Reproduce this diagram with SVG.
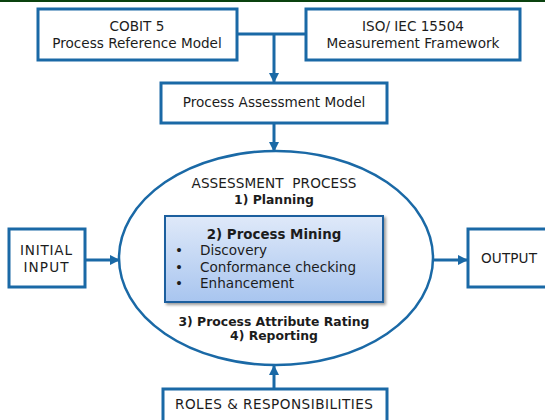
<svg xmlns="http://www.w3.org/2000/svg" width="545" height="420" viewBox="0 0 545 420">
<style>
.box{fill:#fff;stroke:#1a69a6;stroke-width:3}
.ln{fill:none;stroke:#1a69a6;stroke-width:3}
text{font-family:"DejaVu Sans",Verdana,sans-serif;font-size:13.6px;fill:#1c1c1c}
.c{text-anchor:middle}
.b{font-weight:bold;font-size:12.4px}
</style>
<defs>
<marker id="ah" viewBox="0 0 10 10" refX="9" refY="5" markerWidth="3.5" markerHeight="3.5" orient="auto" markerUnits="strokeWidth">
<path d="M0,0 L10,5 L0,10 z" fill="#1a69a6"/>
</marker>
<linearGradient id="g" x1="0" y1="0" x2="0" y2="1">
<stop offset="0" stop-color="#dfe9f9"/>
<stop offset="1" stop-color="#a8c5ef"/>
</linearGradient>
<filter id="sh" x="-10%" y="-10%" width="130%" height="130%">
<feGaussianBlur in="SourceAlpha" stdDeviation="1.5"/>
<feOffset dx="2" dy="2" result="o"/>
<feComponentTransfer><feFuncA type="linear" slope="0.4"/></feComponentTransfer>
<feMerge><feMergeNode/><feMergeNode in="SourceGraphic"/></feMerge>
</filter>
</defs>
<rect x="0" y="0" width="545" height="2" fill="#0a420f"/>
<g id="connectors">
<path class="ln" d="M237,34 H306"/>
<path class="ln" d="M274,34 V82" marker-end="url(#ah)"/>
<path class="ln" d="M274,124 V151" marker-end="url(#ah)"/>
<path class="ln" d="M274,389 V366" marker-end="url(#ah)"/>
<path class="ln" d="M85,260 H119" marker-end="url(#ah)"/>
<path class="ln" d="M433,260 H467" marker-end="url(#ah)"/>
</g>
<g id="cobit">
<rect class="box" x="38" y="9" width="199" height="51"/>
<text class="c" x="137" y="31">COBIT 5</text>
<text class="c" x="137" y="48">Process Reference Model</text>
</g>
<g id="iso">
<rect class="box" x="306" y="9" width="214" height="51"/>
<text class="c" x="413" y="31">ISO/ IEC 15504</text>
<text class="c" x="413" y="48">Measurement Framework</text>
</g>
<g id="pam">
<rect class="box" x="161" y="83" width="226" height="40"/>
<text class="c" x="274" y="107">Process Assessment Model</text>
</g>
<g id="assessment">
<ellipse cx="276" cy="258" rx="157" ry="107" fill="#fff" stroke="#1a69a6" stroke-width="2.5"/>
<text class="c" x="274" y="188" xml:space="preserve" textLength="165">ASSESSMENT  PROCESS</text>
<text class="c b" x="274" y="204">1) Planning</text>
<text class="c b" x="274" y="326">3) Process Attribute Rating</text>
<text class="c b" x="274" y="340">4) Reporting</text>
</g>
<g id="mining">
<rect x="165" y="216" width="218" height="86" fill="url(#g)" stroke="#1d5e9e" stroke-width="2" filter="url(#sh)"/>
<text class="c b" x="274" y="239" style="font-size:13.4px">2) Process Mining</text>
<text x="175" y="255">•</text>
<text x="200" y="255">Discovery</text>
<text x="175" y="272">•</text>
<text x="200" y="272">Conformance checking</text>
<text x="175" y="288">•</text>
<text x="200" y="288">Enhancement</text>
</g>
<g id="input">
<rect class="box" x="9" y="229" width="76" height="58"/>
<text class="c" x="46" y="255" textLength="52">INITIAL</text>
<text class="c" x="46" y="272" textLength="45">INPUT</text>
</g>
<g id="output">
<rect class="box" x="468" y="229" width="80" height="58"/>
<text class="c" x="509" y="263" textLength="56">OUTPUT</text>
</g>
<g id="roles">
<rect class="box" x="163" y="389" width="224" height="40"/>
<text class="c" x="274" y="409" textLength="198">ROLES &amp; RESPONSIBILITIES</text>
</g>
</svg>
